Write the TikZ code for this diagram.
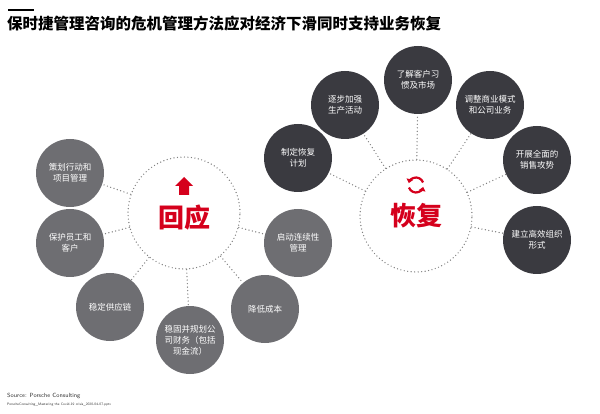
\documentclass[tikz,border=0pt]{standalone}
\usepackage{fontspec}
\setmainfont{Noto Sans CJK SC}
\usetikzlibrary{arrows.meta}
\definecolor{cred}{HTML}{D5001C}
\definecolor{lgray}{HTML}{6E6E72}
\definecolor{dgray}{HTML}{3A3A40}
\tikzset{x=1pt,y=-1pt,
 bub/.style={circle,minimum size=68pt,inner sep=0pt,text=white,font=\fontsize{8.5}{11}\selectfont,align=center},
 lb/.style={bub,fill=lgray},
 db/.style={bub,fill=dgray},
 dots/.style={draw=gray,line width=1.4pt,dash pattern=on 0pt off 3.5pt,line cap=round}}
\begin{document}
\begin{tikzpicture}
\useasboundingbox (0,0) rectangle (600,414);
\draw[line width=1.5pt] (8,10) -- (34,10);
\node[anchor=west,font=\fontsize{15.5}{18}\selectfont\bfseries,inner sep=0] (title) at (7,24) {保时捷管理咨询的危机管理方法应对经济下滑同时支持业务恢复};
% left
\node[circle,minimum size=112pt,dots] (L) at (184,213) {};
\node[lb] (l1) at (70,173) {策划行动和\\项目管理};
\node[lb] (l2) at (70,243) {保护员工和\\客户};
\node[lb] (l3) at (110,307) {稳定供应链};
\node[lb] (l4) at (190,340) {稳固并规划公\\司财务（包括\\现金流）};
\node[lb] (l5) at (265,309) {降低成本};
\node[lb] (l6) at (298,243) {启动连续性\\管理};
\foreach \n in {l1,l2,l3,l4,l5,l6} \draw[dots] (L) -- (\n);
\node[font=\fontsize{26}{28}\selectfont\bfseries,text=cred] (lt) at (184,218) {回应};
\fill[cred] (179,195) -- (179,186) -- (175,186) -- (184,177) -- (193,186) -- (189,186) -- (189,195) -- cycle;
% right
\node[circle,minimum size=112pt,dots] (R) at (416,216) {};
\node[db] (r1) at (298,158) {制定恢复\\计划};
\node[db] (r2) at (345,105) {逐步加强\\生产活动};
\node[db] (r3) at (418,80) {了解客户习\\惯及市场};
\node[db] (r4) at (490,105) {调整商业模式\\和公司业务};
\node[db] (r5) at (537,160) {开展全面的\\销售攻势};
\node[db] (r6) at (537,240) {建立高效组织\\形式};
\foreach \n in {r1,r2,r3,r4,r5,r6} \draw[dots] (R) -- (\n);
\node[font=\fontsize{26}{28}\selectfont\bfseries,text=cred] (rt) at (416,216) {恢复};
\begin{scope}[shift={(416,185)},yscale=-1]
\draw[cred,line width=2.2pt,-{Triangle[length=4pt,width=6.5pt]}] (20:7.5) arc[start angle=20,end angle=165,radius=7.5];
\draw[cred,line width=2.2pt,-{Triangle[length=4pt,width=6.5pt]}] (200:7.5) arc[start angle=200,end angle=345,radius=7.5];
\end{scope}
\node[anchor=west,font=\fontsize{6}{7}\selectfont\sffamily,text=black!80,inner sep=0] (src) at (7,396) {Source: Porsche Consulting};
\node[anchor=west,font=\fontsize{3.5}{4}\selectfont\sffamily,text=black!80,inner sep=0] (file) at (7,405) {PorscheConsulting\_Mastering the Covid-19 crisis\_2020-04-07.pptx};
\end{tikzpicture}
\end{document}
